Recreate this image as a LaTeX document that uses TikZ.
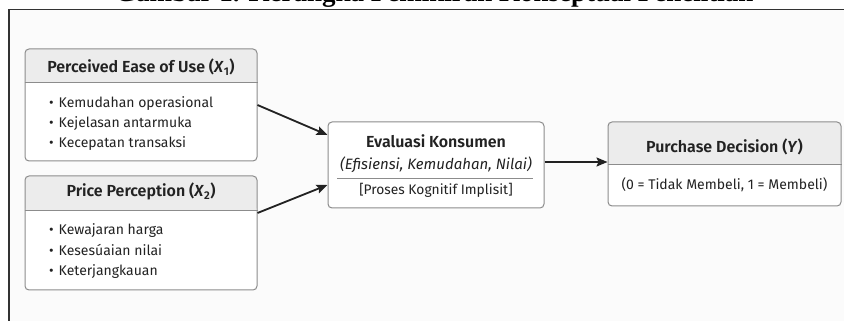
\documentclass[tikz,border=0pt]{standalone}
\usepackage{fontspec}
\setmainfont{Fira Sans}[BoldFont={Fira Sans SemiBold}, BoldItalicFont={Fira Sans SemiBold Italic}]
\newfontfamily\titlefont{Liberation Serif}
\usetikzlibrary{arrows.meta}
\definecolor{framec}{HTML}{333333}
\definecolor{bord}{HTML}{8C8C8C}
\definecolor{hdr}{HTML}{ECECEC}
\definecolor{ink}{HTML}{222222}
\definecolor{bgc}{HTML}{FBFBFB}
\tikzset{
  box/.style={draw=bord, line width=1pt, rounded corners=4pt, fill=white, inner sep=0pt},
  hbox/.style={box, path picture={\fill[hdr] (path picture bounding box.north west) rectangle ([yshift=-#1]path picture bounding box.north east);}},
  hdrtext/.style={font=\fontsize{16}{19}\selectfont\bfseries, text=ink, inner sep=0pt, anchor=base},
  item/.style={font=\fontsize{14}{18}\selectfont, text=ink, inner sep=0pt, anchor=base west},
  subtext/.style={font=\fontsize{14}{18}\selectfont, text=ink, inner sep=0pt, anchor=base},
  arr/.style={draw=ink, line width=1.8pt, -{Stealth[length=11pt,width=9pt,inset=2pt]}},
  sepline/.style={draw=bord, line width=0.8pt},
}
\begin{document}
\begin{tikzpicture}[x=1pt,y=1pt]
\useasboundingbox (0,0) rectangle (844,321);
% frame
\fill[bgc] (9,0) rectangle (844,311.5);
\coordinate (fb) at (9,0);
\coordinate (fc) at (9,311.5);
\coordinate (fr) at (844,311.5);
\draw[framec, line width=1.6pt] (fb) -- (fc) -- (fr);
% clipped title
\begin{scope}
\clip (0,312.4) rectangle (844,321);
\node[anchor=base west, inner sep=0pt, font={\titlefont\bfseries\fontsize{27}{30}\selectfont}] (title) at (115,319.5) {Gambar 1. Kerangka Pemikiran Konseptual Penelitian};
\end{scope}

% box 1
\node[hbox=34pt, minimum width=232pt, minimum height=112pt] (pe) at (141,216) {};
\draw[sepline] ([yshift=-34pt]pe.north west) -- ([yshift=-34pt]pe.north east);
\node[hdrtext] (peh) at (141,248) {Perceived Ease of Use (\textit{X}\textsubscript{1})};
\node[item] (pe1) at (49,213) {•\hspace{5pt}Kemudahan operasional};
\node[item] (pe2) at (49,193) {•\hspace{5pt}Kejelasan antarmuka};
\node[item] (pe3) at (49,173) {•\hspace{5pt}Kecepatan transaksi};

% box 2
\node[hbox=35pt, minimum width=232pt, minimum height=114pt] (pp) at (141,88) {};
\draw[sepline] ([yshift=-35pt]pp.north west) -- ([yshift=-35pt]pp.north east);
\node[hdrtext] (pph) at (141,124) {Price Perception (\textit{X}\textsubscript{2})};
\node[item] (pp1) at (49,86) {•\hspace{5pt}Kewajaran harga};
\node[item] (pp2) at (49,65) {•\hspace{5pt}Kesesúaian nilai};
\node[item] (pp3) at (49,45) {•\hspace{5pt}Keterjangkauan};

% evaluation box
\node[box, minimum width=216pt, minimum height=86pt] (ev) at (436,156) {};
\node[hdrtext] (evh) at (436,173) {Evaluasi Konsumen};
\node[subtext, font=\fontsize{15}{18}\selectfont\itshape] (evs) at (436,151) {(Efisiensi, Kemudahan, Nilai)};
\draw[sepline] (337,143) -- (533,143);
\node[subtext, font=\fontsize{13.8}{18}\selectfont] (evp) at (436,126) {[Proses Kognitif Implisit]};

% purchase box
\node[hbox=43pt, minimum width=233pt, minimum height=84pt] (pd) at (724.5,157) {};
\draw[sepline] ([yshift=-43pt]pd.north west) -- ([yshift=-43pt]pd.north east);
\node[hdrtext] (pdh) at (724.5,168) {Purchase Decision (\textit{Y})};
\node[subtext] (pds) at (724.5,131) {(0 = Tidak Membeli, 1 = Membeli)};

% connectors
\draw[arr] (pe.east) -- ([yshift=30pt]ev.west);
\draw[arr] ([yshift=20pt]pp.east) -- ([yshift=-20pt]ev.west);
\draw[arr] ([yshift=3pt]ev.east) -- ([yshift=3pt]ev.east -| pd.west);
\end{tikzpicture}
\end{document}
